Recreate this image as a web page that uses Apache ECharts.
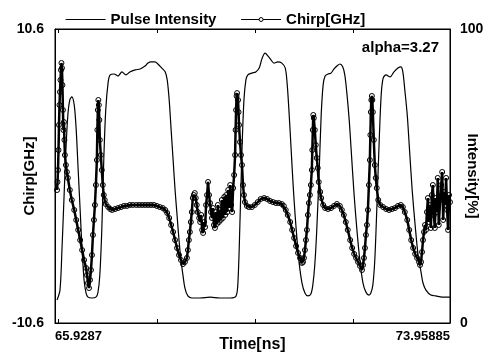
<!DOCTYPE html>
<html>
<head>
<meta charset="utf-8">
<script src="https://cdn.jsdelivr.net/npm/echarts@6/dist/echarts.min.js"></script>
<style>
	html, body { margin: 0; padding: 0; background: #fff; }
	#chirp-chart { width: 487px; height: 353px; }
</style>
</head>
<body>
<div id="chirp-chart"></div>
<script>
// time axis [ns]
const timeMin = 65.9287;
const timeMax = 73.95885;
const timeTicks = [66, 68, 70, 72];

// Pulse intensity [%]
const intensityTime = [65.97, 66.03, 66.07, 66.11, 66.15, 66.19, 66.23, 66.27, 66.32, 66.36, 66.40, 66.44, 66.48, 66.52, 66.56, 66.60,
	66.68, 66.76, 66.80, 66.84, 66.88, 66.92, 66.96, 67.01, 67.05, 67.13, 67.21, 67.29, 67.37, 67.45, 67.56, 67.66, 67.76, 67.82,
	67.88, 67.96, 68.02, 68.10, 68.17, 68.21, 68.25, 68.29, 68.33, 68.37, 68.41, 68.45, 68.49, 68.53, 68.57, 68.63, 68.71, 68.88,
	69.08, 69.28, 69.49, 69.61, 69.65, 69.69, 69.73, 69.77, 69.81, 69.85, 69.93, 70.01, 70.08, 70.14, 70.20, 70.26, 70.32, 70.38,
	70.46, 70.54, 70.61, 70.65, 70.69, 70.73, 70.77, 70.81, 70.85, 70.89, 70.95, 71.01, 71.07, 71.13, 71.17, 71.21, 71.25, 71.30,
	71.34, 71.38, 71.42, 71.48, 71.54, 71.60, 71.66, 71.72, 71.78, 71.82, 71.86, 71.91, 71.95, 72.01, 72.07, 72.13, 72.19, 72.25,
	72.31, 72.35, 72.39, 72.43, 72.47, 72.52, 72.56, 72.60, 72.66, 72.74, 72.82, 72.90, 72.96, 73.00, 73.04, 73.09, 73.13, 73.19,
	73.25, 73.31, 73.37, 73.41, 73.47, 73.57, 73.67, 73.80, 73.95885];
const intensityValue = [7.8, 11.2, 24.8, 41.8, 58.8, 70.7, 75.9, 76.9, 74.1, 65.6, 52.0, 38.4, 24.8, 14.6, 10.2, 8.8,
	8.5, 8.8, 10.2, 16.3, 31.6, 55.4, 72.4, 82.0, 84.4, 84.7, 84.0, 85.4, 84.4, 85.4, 86.1, 86.4, 87.4, 88.4,
	88.8, 88.8, 88.1, 86.7, 85.4, 82.7, 75.9, 65.6, 55.4, 45.2, 36.7, 28.2, 21.4, 16.3, 11.9, 9.2, 8.5, 8.5,
	8.8, 8.5, 8.5, 9.2, 14.6, 35.0, 58.8, 75.9, 82.7, 84.4, 85.0, 85.4, 86.7, 90.1, 91.8, 90.8, 89.5, 88.4,
	88.8, 88.4, 86.7, 81.0, 70.7, 58.8, 46.9, 36.7, 28.2, 20.7, 13.6, 10.2, 9.2, 9.9, 12.9, 19.7, 31.6, 52.0,
	70.7, 81.0, 84.0, 84.7, 85.0, 86.4, 87.4, 88.1, 87.1, 84.4, 78.6, 69.0, 58.8, 43.5, 31.0, 20.7, 13.6, 10.5,
	9.5, 10.2, 12.9, 21.4, 38.4, 62.2, 77.6, 83.3, 84.4, 83.7, 85.4, 86.7, 87.1, 85.4, 79.3, 70.7, 60.5, 45.2,
	33.3, 23.1, 17.3, 13.6, 11.2, 9.5, 9.2, 8.8, 8.8];

// Chirp [GHz]
const chirpTime = [65.97, 65.98, 65.99, 66.00, 66.01, 66.02, 66.03, 66.04, 66.05, 66.06, 66.07, 66.08, 66.09, 66.10, 66.11, 66.12,
	66.13, 66.15, 66.17, 66.19, 66.23, 66.27, 66.32, 66.36, 66.40, 66.44, 66.48, 66.52, 66.56, 66.58, 66.60, 66.62, 66.64, 66.66,
	66.68, 66.70, 66.72, 66.74, 66.76, 66.78, 66.79, 66.80, 66.81, 66.82, 66.83, 66.84, 66.86, 66.88, 66.90, 66.92, 66.94, 66.96,
	67.01, 67.05, 67.09, 67.15, 67.21, 67.27, 67.33, 67.39, 67.45, 67.51, 67.58, 67.64, 67.70, 67.76, 67.82, 67.88, 67.94, 68.00,
	68.06, 68.12, 68.17, 68.21, 68.25, 68.29, 68.33, 68.37, 68.41, 68.45, 68.49, 68.53, 68.57, 68.61, 68.63, 68.65, 68.67, 68.69,
	68.71, 68.73, 68.75, 68.77, 68.79, 68.81, 68.83, 68.86, 68.88, 68.90, 68.92, 68.94, 68.96, 68.98, 69.00, 69.02, 69.04, 69.06,
	69.08, 69.10, 69.12, 69.14, 69.16, 69.18, 69.20, 69.22, 69.24, 69.26, 69.28, 69.30, 69.32, 69.34, 69.37, 69.39, 69.41, 69.43,
	69.45, 69.47, 69.49, 69.51, 69.53, 69.55, 69.57, 69.59, 69.60, 69.61, 69.62, 69.63, 69.65, 69.66, 69.67, 69.69, 69.71, 69.73,
	69.75, 69.77, 69.79, 69.83, 69.87, 69.93, 69.99, 70.05, 70.11, 70.18, 70.24, 70.30, 70.36, 70.42, 70.48, 70.54, 70.58, 70.62,
	70.66, 70.71, 70.75, 70.79, 70.83, 70.87, 70.91, 70.95, 70.97, 70.99, 71.01, 71.03, 71.05, 71.07, 71.09, 71.11, 71.13, 71.15,
	71.16, 71.17, 71.18, 71.19, 71.21, 71.23, 71.25, 71.27, 71.29, 71.32, 71.34, 71.38, 71.42, 71.48, 71.54, 71.60, 71.66, 71.72,
	71.76, 71.80, 71.84, 71.88, 71.93, 71.97, 72.01, 72.05, 72.09, 72.13, 72.17, 72.19, 72.21, 72.23, 72.25, 72.27, 72.29, 72.31,
	72.33, 72.34, 72.35, 72.36, 72.37, 72.38, 72.39, 72.41, 72.43, 72.45, 72.47, 72.50, 72.54, 72.60, 72.66, 72.72, 72.78, 72.84,
	72.90, 72.96, 73.00, 73.04, 73.09, 73.13, 73.17, 73.21, 73.25, 73.29, 73.33, 73.35, 73.37, 73.39, 73.41, 73.43, 73.45, 73.47,
	73.49, 73.51, 73.53, 73.55, 73.57, 73.59, 73.61, 73.63, 73.65, 73.67, 73.69, 73.71, 73.73, 73.76, 73.78, 73.80, 73.82, 73.84,
	73.86, 73.88, 73.90, 73.92, 73.94, 73.95885];
const chirpValue = [-1.01, -0.43, 0.43, 1.87, 3.68, 5.12, 6.06, 6.92, 7.64, 8.15, 7.79, 6.56, 4.76, 3.32, 3.89, 2.60,
	1.51, 0.79, 0.29, -0.14, -1.01, -1.73, -2.45, -3.17, -3.89, -4.62, -5.34, -6.06, -6.63, -7.14, -7.72, -8.08, -7.50, -6.78,
	-5.70, -4.25, -3.17, -2.09, -0.65, 1.15, 3.32, 4.76, 5.48, 5.12, 4.04, 2.60, 1.51, 0.43, -0.65, -1.37, -1.73, -2.02,
	-2.24, -2.38, -2.45, -2.38, -2.31, -2.24, -2.16, -2.16, -2.09, -2.09, -2.09, -2.09, -2.09, -2.09, -2.09, -2.09, -2.09, -2.16,
	-2.24, -2.31, -2.45, -2.67, -3.03, -3.53, -4.04, -4.62, -5.19, -5.70, -6.06, -6.35, -6.20, -5.91, -5.34, -4.62, -4.04, -3.32,
	-2.60, -1.59, -1.37, -1.23, -1.59, -2.09, -2.60, -3.03, -3.32, -2.81, -3.89, -4.11, -3.32, -3.68, -2.09, -1.37, -0.43, -1.37,
	-1.95, -2.60, -3.03, -2.31, -3.53, -3.75, -2.60, -3.46, -2.09, -3.32, -2.45, -3.17, -1.73, -3.03, -1.51, -2.81, -1.37, -2.60,
	-1.01, -2.31, -0.65, -2.09, -2.60, -0.87, 0.07, 1.51, 3.32, 4.76, 5.77, 5.98, 5.48, 4.61, 3.68, 2.45, 1.51, 0.79,
	-0.65, -1.37, -1.88, -2.16, -2.24, -2.24, -2.09, -1.88, -1.66, -1.59, -1.66, -1.80, -1.88, -1.95, -1.95, -2.02, -2.16, -2.45,
	-2.81, -3.32, -3.89, -4.47, -5.05, -5.55, -5.91, -6.27, -6.20, -5.91, -5.34, -4.62, -3.89, -2.81, -1.95, -1.37, -0.65, 0.43,
	1.87, 3.32, 4.40, 4.18, 3.32, 2.24, 1.30, 0.58, -0.43, -1.15, -1.59, -2.09, -2.31, -2.38, -2.31, -2.16, -2.02, -2.16,
	-2.45, -2.81, -3.32, -3.89, -4.62, -5.19, -5.62, -5.91, -6.20, -6.49, -6.78, -6.42, -5.91, -5.19, -4.25, -3.53, -2.45, -0.65,
	1.15, 2.96, 4.61, 5.48, 5.77, 5.48, 4.61, 2.60, 0.79, -0.14, -0.87, -1.73, -2.09, -2.24, -2.38, -2.45, -2.38, -2.31,
	-2.16, -2.09, -2.24, -2.60, -3.17, -3.89, -4.62, -5.19, -5.62, -5.91, -6.20, -6.42, -6.20, -5.48, -4.62, -4.04, -3.53, -3.89,
	-2.60, -1.59, -3.32, -2.09, -3.75, -1.37, -0.65, -2.81, -3.75, -1.59, -2.60, -0.14, -3.53, -1.73, -0.65, 0.29, -3.17, -1.15,
	-2.09, -0.14, -2.45, -3.89, -1.37, -1.88];

const chirpRange = [-10.6, 10.6];
const intensityRange = [0, 100];
const noteText = 'alpha=3.27';

const fontName = 'Liberation Sans, Arial, sans-serif';

function zip(xs, ys) {
	return xs.map((x, i) => [x, ys[i]]);
}

function createOption() {
	var boldText = { fontFamily: fontName, fontWeight: 'bold', color: '#000' };
	var option = {
		animation: false,
		backgroundColor: '#fff',
		textStyle: { fontFamily: fontName, color: '#000' },
		legend: {
			left: 60,
			top: 7,
			itemWidth: 40,
			itemHeight: 5,
			itemGap: 24,
			textStyle: Object.assign({ fontSize: 15 }, boldText),
			data: [
				{ name: 'Pulse Intensity', itemStyle: { opacity: 0 }, lineStyle: { width: 1.2 } },
				{ name: 'Chirp[GHz]', itemStyle: { color: '#fff', borderColor: '#000', borderWidth: 1 }, lineStyle: { width: 1.2 } }
			]
		},
		grid: {
			left: 55, right: 37, top: 29, bottom: 30,
			outerBoundsMode: 'none',
			containLabel: false,
			show: true, borderColor: '#000', borderWidth: 1
		},
		graphic: [{
			type: 'text',
			right: 48,
			top: 40,
			style: { text: noteText, font: 'bold 15px ' + fontName, fill: '#000' }
		}],
		xAxis: [{
			type: 'value',
			min: timeMin,
			max: timeMax,
			name: 'Time[ns]',
			nameLocation: 'middle',
			nameGap: 14,
			nameMoveOverlap: false,
			nameTextStyle: Object.assign({ fontSize: 16 }, boldText),
			axisLine: { show: true, onZero: false, lineStyle: { color: '#000' } },
			axisTick: { show: true, inside: true, length: 4, customValues: timeTicks, lineStyle: { color: '#000' } },
			axisLabel: Object.assign({
				customValues: [timeMin, timeMax],
				formatter: v => (Math.abs(v - timeMin) < 1e-6 ? '65.9287' : '73.95885'),
				fontSize: 13, margin: 7, alignMinLabel: 'left', alignMaxLabel: 'right'
			}, boldText),
			splitLine: { show: false }
		}, {
			type: 'value',
			position: 'top',
			min: timeMin,
			max: timeMax,
			axisLine: { show: true, onZero: false, lineStyle: { color: '#000' } },
			axisTick: { show: true, inside: true, length: 4, customValues: timeTicks, lineStyle: { color: '#000' } },
			axisLabel: { show: false },
			splitLine: { show: false }
		}],
		yAxis: [{
			type: 'value',
			min: chirpRange[0],
			max: chirpRange[1],
			interval: chirpRange[1] - chirpRange[0],
			name: 'Chirp[GHz]',
			nameLocation: 'middle',
			nameGap: 18,
			nameMoveOverlap: false,
			nameTextStyle: Object.assign({ fontSize: 15 }, boldText),
			axisLine: { show: true, onZero: false, lineStyle: { color: '#000' } },
			axisTick: { show: false },
			axisLabel: Object.assign({ formatter: v => v.toFixed(1), fontSize: 14, margin: 11 }, boldText),
			splitLine: { show: false }
		}, {
			type: 'value',
			position: 'right',
			min: intensityRange[0],
			max: intensityRange[1],
			interval: 100,
			name: 'Intensity[%]',
			nameLocation: 'middle',
			nameRotate: -90,
			nameGap: 15,
			nameMoveOverlap: false,
			nameTextStyle: Object.assign({ fontSize: 15 }, boldText),
			axisLine: { show: true, onZero: false, lineStyle: { color: '#000' } },
			axisTick: { show: false },
			axisLabel: Object.assign({ fontSize: 14, margin: 10 }, boldText),
			splitLine: { show: false }
		}],
		series: [{
			name: 'Pulse Intensity',
			type: 'line',
			xAxisIndex: 0,
			yAxisIndex: 1,
			smooth: 0.3,
			symbol: 'none',
			lineStyle: { color: '#000', width: 1.2 },
			itemStyle: { color: '#000' },
			data: zip(intensityTime, intensityValue)
		}, {
			name: 'Chirp[GHz]',
			type: 'line',
			xAxisIndex: 0,
			yAxisIndex: 0,
			symbol: 'circle',
			symbolSize: 5,
			showAllSymbol: true,
			lineStyle: { color: '#000', width: 2.5 },
			itemStyle: { color: 'rgba(255,255,255,0)', borderColor: '#000', borderWidth: 1 },
			data: zip(chirpTime, chirpValue)
		}]
	};
	return option;
}

var myChart = echarts.init(document.getElementById('chirp-chart'));
myChart.setOption(createOption());
</script>
</body>
</html>
